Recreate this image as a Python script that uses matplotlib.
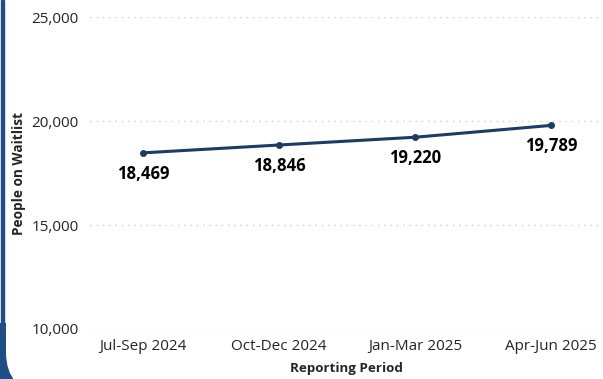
import numpy as np
import matplotlib
matplotlib.use("Agg")
import matplotlib.pyplot as plt
from matplotlib.patches import Rectangle, PathPatch
from matplotlib.path import Path
from matplotlib.ticker import FuncFormatter

# waitlist counts per quarter
periods = ["Jul-Sep 2024", "Oct-Dec 2024", "Jan-Mar 2025", "Apr-Jun 2025"]
waitlist = [18469, 18846, 19220, 19789]
y_ticks = [10000, 15000, 20000, 25000]

navy = "#1d3b63"
text_col = "#252423"
frame_col = "#1f4e85"

plt.rcParams["font.family"] = ["Open Sans", "DejaVu Sans"]

W, H = 603, 379
fig = plt.figure(figsize=(W / 100, H / 100), dpi=100)
ax = fig.add_axes([90 / W, 1 - 329 / H, 1 - 90 / W, (329 - 17) / H])

x = np.arange(len(periods))
ax.plot(x, waitlist, color=navy, lw=2.2, marker="o", ms=4, solid_capstyle="round", zorder=3)

for xi, v in zip(x, waitlist):
    ax.annotate(f"{v:,}", (xi, v), xytext=(0, -15), textcoords="offset points",
                ha="center", va="center", fontsize=12, fontweight="bold", color="black")

ax.set_xlim(-0.39, 3.38)
ax.set_ylim(10000, 25000)
ax.set_xticks(x)
ax.set_xticklabels(periods)
ax.set_yticks(y_ticks)
ax.yaxis.set_major_formatter(FuncFormatter(lambda v, p: f"{int(v):,}"))
ax.tick_params(length=0, labelsize=11, labelcolor=text_col)
ax.tick_params(axis="y", pad=8)
ax.tick_params(axis="x", pad=7)

ax.grid(axis="y", color="#cccccc", linestyle=(0, (1, 3.5)), lw=1)
ax.set_axisbelow(True)
for s in ax.spines.values():
    s.set_visible(False)

ax.set_ylabel("People on Waitlist", fontsize=9.8, fontweight="bold", color=text_col, labelpad=4)
ax.set_xlabel("Reporting Period", fontsize=9.6, fontweight="bold", color=text_col, labelpad=6)

# card edge on the left
fig.patches.append(Rectangle((1 / W, 1 - 325 / H), 2.5 / W, 325 / H,
                             transform=fig.transFigure, color=frame_col, zorder=5))
r = 40
verts = [(0, 323), (6, 323), (6, 392 - r), (6, 392), (6 + r, 392), (0, 392), (0, 323)]
codes = [Path.MOVETO, Path.LINETO, Path.LINETO, Path.CURVE3, Path.CURVE3,
         Path.LINETO, Path.CLOSEPOLY]
verts = [(vx / W, 1 - vy / H) for vx, vy in verts]
fig.patches.append(PathPatch(Path(verts, codes), transform=fig.transFigure,
                             facecolor=frame_col, edgecolor="none", zorder=5))

fig.savefig("out.png", dpi=100)
